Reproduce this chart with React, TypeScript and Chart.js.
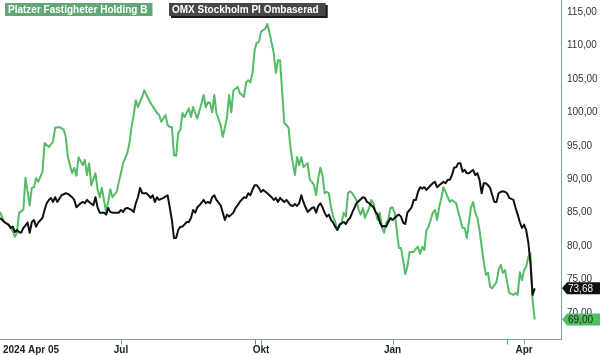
import { useEffect, useRef } from "react";
import { Chart, registerables } from "chart.js";

Chart.register(...registerables);

const platzerName = "Platzer Fastigheter Holding B";
const omxName = "OMX Stockholm PI Ombaserad";

// trading-day index since 2024-04-05
const platzerDays = [
  0, 2, 5, 7, 8, 9, 11, 12, 14, 15,
  16, 17, 18, 20, 21, 23, 25, 26, 28, 30,
  31, 32, 34, 35, 36, 37, 39, 40, 41, 42,
  43, 45, 46, 47, 48, 49, 50, 51, 52, 53,
  55, 56, 57, 58, 60, 61, 62, 63, 64, 65,
  67, 68, 69, 71, 73, 74, 75, 76, 78, 79,
  80, 81, 82, 83, 84, 85, 86, 87, 89, 90,
  91, 92, 93, 95, 96, 97, 98, 99, 100, 101,
  102, 104, 105, 106, 107, 108, 109, 110, 112, 113,
  115, 116, 117, 118, 119, 120, 121, 122, 123, 124,
  125, 126, 127, 128, 129, 130, 131, 132, 133, 134,
  136, 137, 139, 140, 141, 142, 143, 145, 146, 147,
  148, 149, 150, 151, 152, 153, 154, 155, 156, 157,
  158, 159, 161, 162, 163, 164, 165, 166, 168, 169,
  170, 171, 172, 173, 174, 175, 176, 177, 178, 179,
  180, 181, 182, 183, 184, 185, 186, 187, 188, 189,
  190, 191, 192, 193, 195, 196, 197, 198, 199, 200,
  201, 202, 204, 205, 206, 207, 208, 209, 210, 211,
  212, 213, 215, 216, 217, 218, 219, 220, 221, 222,
  223, 224, 225, 226, 227, 228, 229, 230, 231, 232,
  234, 235, 236, 237, 238, 239, 240, 242, 243, 244,
  245, 246, 247, 248, 249, 250, 251, 252,
];
const platzerValues = [
  85.1, 83.6, 82.9, 81.4, 82.0, 85.0, 85.4, 90.2, 86.1, 88.7,
  88.8, 90.2, 89.6, 91.1, 95.4, 94.8, 95.6, 97.7, 97.8, 97.4,
  96.3, 93.3, 90.9, 91.7, 90.5, 93.3, 92.1, 92.9, 90.6, 92.4,
  89.1, 90.9, 88.4, 87.3, 88.7, 86.9, 85.1, 86.6, 88.5, 87.3,
  88.1, 89.6, 90.9, 92.4, 93.9, 95.4, 97.8, 99.6, 101.8, 100.8,
  102.3, 103.3, 102.6, 101.4, 100.4, 99.9, 99.6, 98.6, 99.6, 98.1,
  97.8, 97.8, 93.6, 93.5, 96.9, 97.4, 99.9, 99.3, 100.6, 99.3,
  100.8, 99.9, 99.1, 101.4, 102.6, 100.8, 101.5, 101.4, 100.0, 102.6,
  99.9, 98.1, 96.3, 97.7, 99.3, 102.6, 100.0, 103.3, 103.8, 102.9,
  102.3, 104.5, 104.8, 104.5, 105.9, 109.3, 110.4, 110.5, 112.0, 112.3,
  112.5, 113.2, 111.9, 110.4, 108.9, 105.9, 107.8, 107.8, 103.0, 98.4,
  97.7, 94.4, 90.6, 93.3, 92.1, 93.3, 91.8, 92.4, 89.9, 89.6,
  89.1, 87.6, 90.2, 91.7, 90.6, 87.9, 88.1, 87.9, 85.8, 84.4,
  83.6, 82.4, 83.5, 85.0, 84.4, 87.9, 88.2, 87.9, 86.9, 85.4,
  84.7, 85.7, 84.2, 85.0, 85.7, 86.9, 86.4, 85.0, 83.9, 85.0,
  82.9, 82.0, 83.5, 83.9, 85.7, 85.8, 85.0, 82.4, 79.7, 79.7,
  77.9, 75.8, 76.9, 79.1, 79.1, 79.6, 79.9, 78.8, 79.9, 79.4,
  82.4, 82.9, 85.0, 85.4, 83.9, 85.8, 87.2, 88.8, 88.1, 87.3,
  86.6, 86.9, 86.4, 85.1, 83.9, 82.7, 82.7, 81.2, 83.6, 85.8,
  86.6, 85.0, 84.2, 82.4, 79.9, 77.6, 75.7, 76.0, 73.9, 73.7,
  74.6, 76.4, 77.2, 76.0, 76.4, 74.6, 73.0, 72.7, 73.0, 72.7,
  76.1, 74.9, 76.4, 76.9, 78.4, 78.9, 72.0, 69.0,
];

const omxDays = [
  0, 2, 4, 5, 6, 7, 8, 9, 10, 11,
  13, 14, 15, 16, 17, 18, 20, 21, 22, 23,
  24, 25, 26, 27, 29, 31, 32, 34, 35, 36,
  38, 39, 40, 41, 42, 44, 45, 46, 47, 49,
  50, 51, 52, 53, 54, 56, 57, 58, 59, 60,
  62, 63, 64, 65, 66, 67, 69, 70, 71, 72,
  73, 74, 75, 77, 79, 80, 81, 82, 83, 84,
  85, 86, 88, 89, 90, 91, 92, 93, 94, 96,
  97, 98, 99, 100, 101, 102, 104, 105, 106, 107,
  108, 110, 111, 112, 113, 115, 116, 117, 118, 119,
  120, 121, 122, 123, 124, 126, 127, 128, 129, 130,
  131, 132, 133, 134, 135, 137, 138, 139, 140, 141,
  142, 143, 144, 145, 147, 148, 149, 150, 151, 152,
  153, 154, 155, 156, 157, 158, 159, 160, 162, 163,
  164, 165, 166, 167, 168, 170, 171, 172, 173, 174,
  176, 177, 178, 179, 180, 181, 182, 183, 184, 185,
  187, 188, 189, 190, 191, 192, 194, 195, 196, 197,
  198, 199, 200, 201, 203, 204, 205, 206, 207, 209,
  210, 211, 212, 213, 214, 215, 216, 217, 218, 219,
  220, 221, 223, 224, 225, 226, 227, 228, 229, 230,
  231, 232, 233, 234, 235, 236, 237, 238, 239, 240,
  242, 243, 244, 245, 246, 247, 248, 249, 250, 251,
  252,
];
const omxValues = [
  84.2, 83.6, 83.2, 82.7, 82.9, 82.1, 82.4, 82.1, 82.0, 82.7,
  83.5, 82.0, 83.6, 83.9, 82.9, 83.5, 84.2, 85.4, 86.4, 86.9,
  87.2, 86.6, 87.3, 86.6, 87.6, 87.9, 87.8, 87.3, 86.9, 85.8,
  86.4, 86.6, 86.4, 86.9, 86.6, 86.1, 87.3, 85.8, 85.0, 85.0,
  84.7, 85.7, 85.1, 85.0, 85.0, 85.0, 85.4, 85.1, 85.6, 85.7,
  85.4, 85.1, 86.4, 87.3, 88.7, 87.9, 87.9, 87.6, 87.2, 87.6,
  86.6, 87.3, 86.9, 87.2, 87.6, 85.8, 83.9, 81.2, 81.2, 82.4,
  82.9, 82.9, 83.6, 83.6, 84.2, 85.4, 85.0, 85.8, 86.1, 86.9,
  86.4, 86.6, 86.4, 87.3, 87.6, 86.9, 86.1, 85.0, 83.9, 84.7,
  84.4, 85.0, 85.7, 86.1, 86.6, 87.3, 87.2, 87.9, 87.6, 88.4,
  89.1, 89.1, 88.7, 88.1, 88.4, 87.9, 87.6, 87.3, 86.9, 87.2,
  86.6, 87.2, 86.9, 86.6, 86.9, 86.1, 86.0, 86.3, 86.0, 86.4,
  87.6, 86.6, 85.8, 85.1, 85.7, 85.8, 85.0, 86.0, 86.4, 85.8,
  85.0, 84.4, 84.7, 83.9, 83.5, 82.9, 82.4, 83.2, 83.6, 83.3,
  83.9, 84.2, 85.0, 85.7, 86.4, 87.0, 87.3, 87.2, 86.6, 86.4,
  85.8, 85.1, 84.7, 83.6, 82.9, 83.0, 82.9, 83.6, 84.2, 83.9,
  84.5, 84.7, 84.4, 83.5, 83.3, 85.0, 85.8, 86.9, 86.9, 88.1,
  88.8, 88.6, 88.8, 88.4, 89.1, 89.4, 89.6, 88.8, 89.1, 89.6,
  89.4, 89.9, 89.9, 90.6, 91.7, 91.8, 92.4, 92.4, 91.1, 91.4,
  90.9, 90.9, 91.4, 90.6, 90.9, 89.9, 87.9, 89.4, 89.4, 89.1,
  88.7, 87.6, 86.6, 86.6, 87.9, 88.1, 88.2, 88.1, 87.9, 87.2,
  86.9, 85.7, 84.7, 83.6, 82.7, 83.2, 82.4, 80.5, 77.5, 72.7,
  73.68,
];

const xTickDays = [0, 57, 123, 185, 247];
const xTickLabels = ["2024 Apr 05", "Jul", "Okt", "Jan", "Apr"];
const markerDays = [120, 239];
const yTickValues = [70, 75, 80, 85, 90, 95, 100, 105, 110, 115];

const X_MIN = 0;
const X_MAX = 264.4;
const Y_MIN = 66.1;
const Y_MAX = 116.8;

const FONT = "'Liberation Sans', Arial, sans-serif";
const AXIS_COLOR = "#7b9cc0";
const GREEN = "#55bb66";
const BLACK = "#111111";

const fmt = (v: number) => v.toFixed(2).replace(".", ",");

const overlayPlugin = {
  id: "overlay",
  afterDraw(chart: any) {
    const { ctx, chartArea } = chart;
    const xs = chart.scales.x;
    const ys = chart.scales.y;
    const bottom = Math.round(chartArea.bottom) + 0.5;
    ctx.save();

    // bottom axis line
    ctx.strokeStyle = AXIS_COLOR;
    ctx.lineWidth = 1;
    ctx.beginPath();
    ctx.moveTo(chartArea.left, bottom);
    ctx.lineTo(Math.round(chartArea.right) + 1, bottom);
    ctx.stroke();

    // month ticks
    xTickDays.forEach((d, i) => {
      if (i === 0) return;
      const px = Math.round(xs.getPixelForValue(d)) + 0.5;
      ctx.beginPath();
      ctx.moveTo(px, bottom);
      ctx.lineTo(px, bottom + 5);
      ctx.stroke();
    });
    // red markers
    ctx.strokeStyle = "#e8505a";
    markerDays.forEach((d) => {
      const px = Math.round(xs.getPixelForValue(d)) + 0.5;
      ctx.beginPath();
      ctx.moveTo(px, bottom);
      ctx.lineTo(px, bottom + 5);
      ctx.stroke();
    });

    // x labels
    ctx.fillStyle = "#222";
    ctx.font = `bold 10px ${FONT}`;
    ctx.textBaseline = "middle";
    xTickDays.forEach((d, i) => {
      const px = xs.getPixelForValue(d);
      if (i === 0) {
        ctx.textAlign = "left";
        ctx.fillText(xTickLabels[i], px + 3, bottom + 11);
      } else {
        ctx.textAlign = "center";
        ctx.fillText(xTickLabels[i], px, bottom + 11);
      }
    });

    // legend boxes
    ctx.font = `bold 10px ${FONT}`;
    ctx.textAlign = "left";
    const w1 = ctx.measureText(platzerName).width;
    ctx.fillStyle = "#62a875";
    ctx.fillRect(5, 3, w1 + 8, 13);
    ctx.fillStyle = "#ffffff";
    ctx.fillText(platzerName, 8, 10);

    const w2 = ctx.measureText(omxName).width;
    const bx = 169;
    ctx.fillStyle = "#1a1a1a";
    ctx.fillRect(bx + 2, 5, w2 + 10, 13);
    ctx.fillStyle = "#474747";
    ctx.fillRect(bx, 3, w2 + 10, 13);
    ctx.fillStyle = "#ffffff";
    ctx.fillText(omxName, bx + 3, 10);

    // last value labels
    const drawTag = (value: number, fill: string, textColor: string) => {
      const cy = ys.getPixelForValue(value);
      const tip = Math.round(chartArea.right) + 1;
      ctx.fillStyle = fill;
      ctx.beginPath();
      ctx.moveTo(tip, cy);
      ctx.lineTo(tip + 5, cy - 6);
      ctx.lineTo(600, cy - 6);
      ctx.lineTo(600, cy + 6);
      ctx.lineTo(tip + 5, cy + 6);
      ctx.closePath();
      ctx.fill();
      ctx.fillStyle = textColor;
      ctx.font = `10px ${FONT}`;
      ctx.textAlign = "left";
      ctx.textBaseline = "middle";
      ctx.fillText(fmt(value), tip + 6, cy + 0.5);
    };
    drawTag(omxValues[omxValues.length - 1], BLACK, "#ffffff");
    drawTag(platzerValues[platzerValues.length - 1], "#4fbf62", "#1e1e1e");

    ctx.restore();
  },
};

export default function App() {
  const canvasRef = useRef<HTMLCanvasElement | null>(null);

  useEffect(() => {
    if (!canvasRef.current) return;
    const chart = new Chart(canvasRef.current, {
      type: "line",
      data: {
        datasets: [
          {
            label: omxName,
            data: omxDays.map((d, i) => ({ x: d, y: omxValues[i] })),
            borderColor: BLACK,
            borderWidth: 2,
            pointRadius: 0,
            tension: 0,
            borderJoinStyle: "round",
            order: 0,
          },
          {
            label: platzerName,
            data: platzerDays.map((d, i) => ({ x: d, y: platzerValues[i] })),
            borderColor: GREEN,
            borderWidth: 2,
            pointRadius: 0,
            tension: 0,
            borderJoinStyle: "round",
            order: 1,
          },
        ],
      },
      options: {
        responsive: false,
        animation: false,
        devicePixelRatio: 1,
        layout: { padding: { left: 0, right: 0, top: 0, bottom: 16 } },
        plugins: {
          legend: { display: false },
          tooltip: { enabled: false },
        },
        scales: {
          x: {
            type: "linear",
            display: false,
            min: X_MIN,
            max: X_MAX,
          },
          y: {
            type: "linear",
            position: "right",
            min: Y_MIN,
            max: Y_MAX,
            grid: { display: false, drawTicks: false },
            border: { display: true, color: AXIS_COLOR, width: 1 },
            afterBuildTicks: (s: any) => {
              s.ticks = yTickValues.map((v) => ({ value: v }));
            },
            afterFit: (s: any) => {
              s.width = 39;
              s.paddingTop = 0;
              s.paddingBottom = 0;
            },
            ticks: {
              padding: 6,
              color: "#333",
              font: { family: FONT, size: 10 },
              callback: (v: any) => fmt(Number(v)),
            },
          },
        },
      },
      plugins: [overlayPlugin],
    });
    return () => chart.destroy();
  }, []);

  return (
    <div style={{ position: "absolute", left: 0, top: 0, width: 600, height: 355, background: "#fff" }}>
      <canvas ref={canvasRef} width={600} height={355} style={{ display: "block" }} />
    </div>
  );
}
